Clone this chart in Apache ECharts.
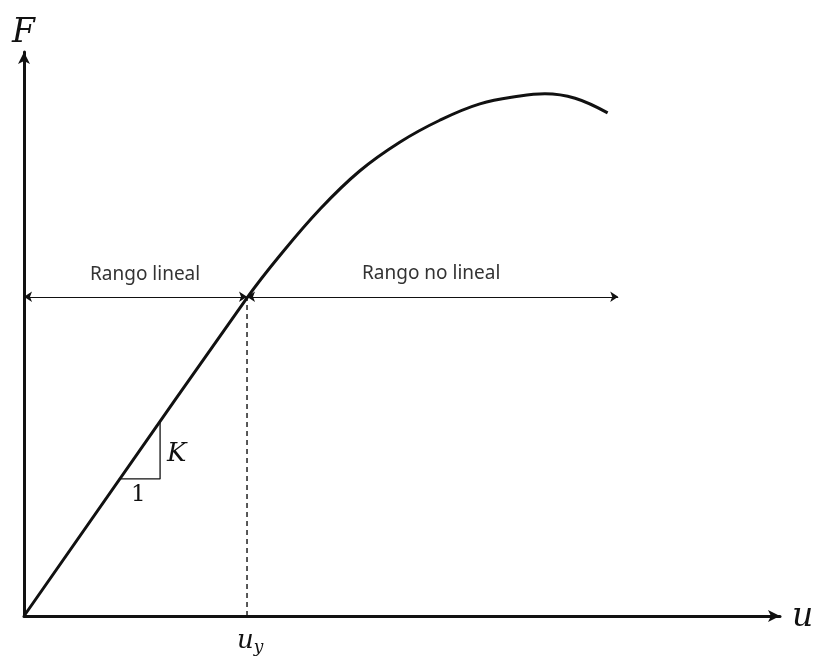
<!DOCTYPE html>
<html>
<head>
<meta charset="utf-8">
<script src="https://cdn.jsdelivr.net/npm/echarts@6/dist/echarts.min.js"></script>
<style>
  html, body { margin: 0; padding: 0; background: #fff; }
  #chart { width: 815px; height: 656px; }
</style>
</head>
<body>
<div id="chart"></div>
<script>
// curva fuerza-desplazamiento (unidades relativas, 0..100)
// tramo lineal: origen -> fluencia (uy, Fy)
const uy = 29.5
const Fy = 56.4
const curveU = [0, 29.5, 33.9, 39.2, 44.4, 49.7, 55.0, 60.3, 65.6, 68.9, 72.9, 77.2]
const curveF = [0, 56.4, 64.0, 72.2, 78.9, 84.0, 87.9, 90.8, 92.2, 92.6, 91.8, 89.2]
// pendiente K / 1
const slopeU = [12.7, 18.0, 18.0]
const slopeF = [24.3, 24.3, 34.4]
// rangos
const rangeF = 56.6
const rangeEnd = 78.6

const zip = (a, b) => a.map((v, i) => [v, b[i]])

const chart = echarts.init(document.getElementById('chart'))
const black = '#111'
const mathFont = '"DejaVu Serif", "Liberation Serif", serif'

const option = {
  animation: false,
  grid: { left: 24, right: 35, top: 52, bottom: 40, containLabel: false },
  xAxis: {
    type: 'value', min: 0, max: 100,
    axisLine: { show: true, symbol: ['none', 'arrow'], symbolSize: [9, 12], lineStyle: { color: black, width: 3 } },
    axisTick: { show: false }, axisLabel: { show: false }, splitLine: { show: false }
  },
  yAxis: {
    type: 'value', min: 0, max: 100,
    axisLine: { show: true, symbol: ['none', 'arrow'], symbolSize: [9, 12], lineStyle: { color: black, width: 3 } },
    axisTick: { show: false }, axisLabel: { show: false }, splitLine: { show: false }
  },
  series: [
    {
      type: 'line', data: zip(curveU, curveF), symbol: 'none', smooth: 0.4,
      lineStyle: { color: black, width: 3 }
    },
    {
      type: 'line', data: [[uy, 0], [uy, Fy]], symbol: 'none',
      lineStyle: { color: black, width: 1.4, type: [5, 4] }
    },
    {
      type: 'line', data: zip(slopeU, slopeF), symbol: 'none',
      lineStyle: { color: black, width: 1.3 }
    },
    {
      type: 'lines', coordinateSystem: 'cartesian2d',
      symbol: ['arrow', 'arrow'], symbolSize: 8,
      lineStyle: { color: black, width: 1.2, opacity: 1 },
      data: [
        { coords: [[0, rangeF], [uy, rangeF]] },
        { coords: [[uy, rangeF], [rangeEnd, rangeF]] }
      ]
    }
  ],
  graphic: [
    { type: 'text', left: 12, top: 17, style: { text: 'F', font: 'italic 33px ' + mathFont, fill: black } },
    { type: 'text', left: 792, top: 601, style: { text: 'u', font: 'italic 33px ' + mathFont, fill: black } },
    { type: 'text', left: 237, top: 628, style: {
        text: '{a|u}{b|y}',
        rich: {
          a: { font: 'italic 26px ' + mathFont, fill: black },
          b: { font: 'italic 17px ' + mathFont, fill: black, padding: [14, 0, 0, 0] }
        }
    } },
    { type: 'text', left: 167, top: 441, style: { text: 'K', font: 'italic 26px ' + mathFont, fill: black } },
    { type: 'text', left: 131, top: 484, style: { text: '1', font: '23px ' + mathFont, fill: black } },
    { type: 'text', left: 90, top: 265, style: { text: 'Rango lineal', font: '19px "Noto Sans", sans-serif', fill: '#333' } },
    { type: 'text', left: 362, top: 264, style: { text: 'Rango no lineal', font: '19px "Noto Sans", sans-serif', fill: '#333' } }
  ]
}

chart.setOption(option)
</script>
</body>
</html>
